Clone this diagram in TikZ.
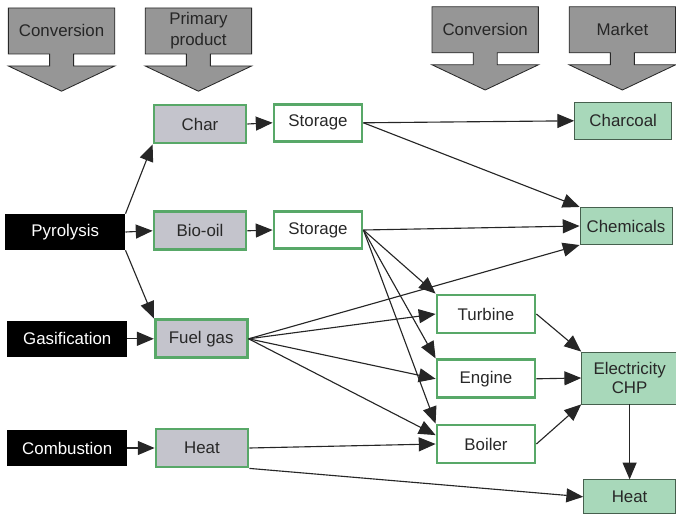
\documentclass[tikz,border=0pt]{standalone}
\usepackage{fontspec}
\setmainfont{Liberation Sans}
\usetikzlibrary{arrows.meta}
\definecolor{boxline}{RGB}{88,168,104}
\definecolor{productfill}{RGB}{196,196,204}
\definecolor{marketfill}{RGB}{168,216,186}
\definecolor{marketline}{RGB}{70,96,78}
\definecolor{headgray}{RGB}{150,150,150}
\definecolor{ink}{RGB}{40,40,40}

\begin{document}
\begin{tikzpicture}[
    every node/.style={font=\fontsize{12}{15}\selectfont},
    source/.style={fill=black, text=white, minimum width=3cm, minimum height=0.9cm},
    product/.style={fill=productfill, draw=boxline, line width=2pt, text=ink, minimum width=2.3cm, minimum height=0.95cm},
    store/.style={product, fill=white, minimum width=2.2cm, minimum height=0.92cm},
    device/.style={store, minimum width=2.45cm, minimum height=0.95cm},
    market/.style={fill=marketfill, draw=marketline, line width=0.6pt, text=ink, minimum width=2.35cm, minimum height=0.93cm, align=center},
    flow/.style={draw=black!85, line width=0.8pt, -{Triangle[length=4.2mm,width=3.5mm]}}
  ]
  \useasboundingbox (0,0) rectangle (16.9,12.85);

  % column headers
  \foreach \cx/\top/\txt [count=\i] in {1.54/12.65/Conversion, 4.96/12.65/{Primary\\product}, 12.13/12.68/Conversion, 15.56/12.68/Market}{
    \draw[fill=headgray, draw=ink, line width=0.6pt]
      (\cx-1.33,\top) -- (\cx+1.33,\top) -- (\cx+1.33,\top-1.15) -- (\cx+0.3,\top-1.15)
      -- (\cx+0.3,\top-1.45) -- (\cx+1.33,\top-1.45) -- (\cx,\top-2.08) -- (\cx-1.33,\top-1.45)
      -- (\cx-0.3,\top-1.45) -- (\cx-0.3,\top-1.15) -- (\cx-1.33,\top-1.15) -- cycle;
    \node[align=center, text=black!85] (head\i) at (\cx,\top-0.57) {\txt};
  }

  % conversion routes
  \node[source] (pyro) at (1.63,7.05) {Pyrolysis};
  \node[source] (gasi) at (1.68,4.38) {Gasification};
  \node[source] (comb) at (1.68,1.65) {Combustion};

  % primary products
  \node[product] (char) at (5.0,9.75) {Char};
  \node[product] (bio) at (5.0,7.08) {Bio-oil};
  \node[product] (fuel) at (5.03,4.38) {Fuel gas};
  \node[product] (heatA) at (5.05,1.65) {Heat};

  \node[store] (storeA) at (7.95,9.78) {Storage};
  \node[store] (storeB) at (7.95,7.1) {Storage};

  \node[device] (turb) at (12.15,5.0) {Turbine};
  \node[device] (eng) at (12.15,3.38) {Engine};
  \node[device] (boil) at (12.15,1.75) {Boiler};

  % markets
  \node[market, minimum width=2.43cm] (coal) at (15.58,9.83) {Charcoal};
  \node[market, minimum width=2.3cm] (chem) at (15.65,7.2) {Chemicals};
  \node[market, minimum width=2.4cm, minimum height=1.3cm] (elec) at (15.74,3.4) {Electricity\\[-2pt]CHP};
  \node[market, minimum width=2.3cm, minimum height=0.85cm] (heatB) at (15.74,0.43) {Heat};

  \draw[flow] (pyro.north east) -- (char.south west);
  \draw[flow] (pyro.east) -- (bio.west);
  \draw[flow] (pyro.south east) -- (fuel.north west);
  \draw[flow] (gasi.east) -- (fuel.west);
  \draw[flow] (comb.east) -- (heatA.west);

  \draw[flow] (char.east) -- (storeA.west);
  \draw[flow] (bio.east) -- (storeB.west);

  \draw[flow] (storeA.east) -- (coal.west);
  \draw[flow] (storeA.east) -- (chem.north west);
  \draw[flow] (storeB.east) -- (chem.west);
  \draw[flow] (storeB.east) -- (turb.north west);
  \draw[flow] (storeB.east) -- (eng.north west);
  \draw[flow] (storeB.east) -- (boil.north west);

  \draw[flow] (fuel.east) -- (chem.south west);
  \draw[flow] (fuel.east) -- (turb.west);
  \draw[flow] (fuel.east) -- (eng.west);
  \draw[flow] (fuel.east) -- (boil.170);

  \draw[flow] (heatA.east) -- (boil.west);
  \draw[flow] (heatA.south east) -- (heatB.west);

  \draw[flow] (turb.east) -- (elec.north west);
  \draw[flow] (eng.east) -- (elec.west);
  \draw[flow] (boil.east) -- (elec.south west);
  \draw[flow] (elec.south) -- (heatB.north);
\end{tikzpicture}
\end{document}
